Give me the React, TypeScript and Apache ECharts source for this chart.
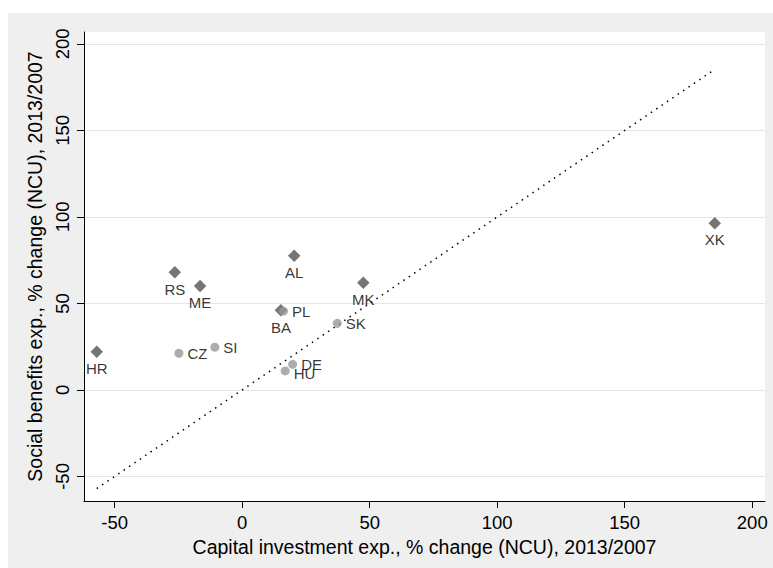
import React, { useEffect, useRef } from "react";
import * as echarts from "echarts";

// Diamond series (dark grey)
const diamondNames = ["AL", "RS", "ME", "MK", "BA", "HR", "XK"];
const diamondX = [20.4, -26.4, -16.5, 47.5, 15.2, -57.0, 185.3];
const diamondY = [77.6, 68.0, 60.1, 62.0, 46.0, 22.1, 96.4];

// Circle series (light grey)
const circleNames = ["PL", "SK", "CZ", "SI", "DE", "HU"];
const circleX = [16.2, 37.3, -24.8, -10.7, 19.8, 16.9];
const circleY = [45.5, 38.5, 21.2, 24.7, 14.8, 11.0];

// Axis ticks
const xTicks = [-50, 0, 50, 100, 150, 200];
const yTicks = [-50, 0, 50, 100, 150, 200];

const xTitle = "Capital investment exp., % change (NCU), 2013/2007";
const yTitle = "Social benefits exp., % change (NCU), 2013/2007";

// label placement (style)
const labelPlace: Record<string, { position: string; distance: number; offset?: number[] }> = {
  AL: { position: "bottom", distance: 3 },
  RS: { position: "bottom", distance: 3 },
  ME: { position: "bottom", distance: 3 },
  MK: { position: "bottom", distance: 3 },
  BA: { position: "bottom", distance: 3 },
  HR: { position: "bottom", distance: 3 },
  XK: { position: "bottom", distance: 3 },
  PL: { position: "right", distance: 4 },
  SK: { position: "right", distance: 4 },
  CZ: { position: "right", distance: 4 },
  SI: { position: "right", distance: 4 },
  DE: { position: "right", distance: 4 },
  HU: { position: "right", distance: 4, offset: [0, 3] },
};

const FONT = "'Liberation Sans', Arial, sans-serif";

function buildPoints(names: string[], xs: number[], ys: number[]) {
  return names.map((n, i) => {
    const p = labelPlace[n];
    return {
      name: n,
      value: [xs[i], ys[i]],
      label: {
        show: true,
        formatter: n,
        position: p.position,
        distance: p.distance,
        offset: p.offset || [0, 0],
      },
    };
  });
}

export default function App() {
  const ref = useRef<HTMLDivElement>(null);
  useEffect(() => {
    if (!ref.current) return;
    const chart = echarts.init(ref.current, null, { renderer: "svg" });
    const allX = diamondX.concat(circleX);
    const lo = Math.min(...allX);
    const hi = Math.max(...allX);
    const labelStyle = { color: "#000", fontSize: 15, fontFamily: FONT };
    chart.setOption({
      animation: false,
      backgroundColor: "#efefef",
      grid: { left: 76, top: 19, right: 8, bottom: 67, show: true, backgroundColor: "#ffffff", borderWidth: 0 },
      xAxis: {
        type: "value",
        min: -62,
        max: 205,
        name: xTitle,
        nameLocation: "middle",
        nameGap: 28,
        nameTextStyle: { color: "#000", fontSize: 19.5, fontFamily: FONT },
        axisLine: { show: true, onZero: false, lineStyle: { color: "#000", width: 1 } },
        axisTick: { show: true, length: 7, customValues: xTicks, lineStyle: { color: "#000" } },
        axisLabel: { customValues: xTicks, color: "#000", fontSize: 18.5, fontFamily: FONT, margin: 12 },
        splitLine: { show: false },
      },
      yAxis: {
        type: "value",
        min: -64.2,
        max: 206.9,
        name: yTitle,
        nameLocation: "middle",
        nameGap: 27,
        nameTextStyle: { color: "#000", fontSize: 19.5, fontFamily: FONT },
        axisLine: { show: true, onZero: false, lineStyle: { color: "#000", width: 1 } },
        axisTick: { show: true, length: 7, customValues: yTicks, lineStyle: { color: "#000" } },
        axisLabel: { customValues: yTicks, rotate: 90, color: "#000", fontSize: 18.5, fontFamily: FONT, margin: 12 },
        splitLine: { show: true, lineStyle: { color: "#e6e6e6", width: 1 } },
      },
      series: [
        {
          type: "line",
          data: [[lo, lo], [hi, hi]],
          symbol: "none",
          lineStyle: { color: "#000", width: 1.5, type: [1.5, 5] },
          z: 1,
          silent: true,
        },
        {
          type: "scatter",
          symbol: "diamond",
          symbolSize: 12.5,
          itemStyle: { color: "#525252" },
          label: labelStyle,
          data: buildPoints(diamondNames, diamondX, diamondY),
          z: 2,
        },
        {
          type: "scatter",
          symbol: "circle",
          symbolSize: 9,
          itemStyle: { color: "#999999" },
          label: labelStyle,
          data: buildPoints(circleNames, circleX, circleY),
          z: 3,
        },
      ],
    });
    return () => chart.dispose();
  }, []);
  return (
    <div
      ref={ref}
      style={{ position: "absolute", left: 8, top: 13, width: 765, height: 555 }}
    />
  );
}
